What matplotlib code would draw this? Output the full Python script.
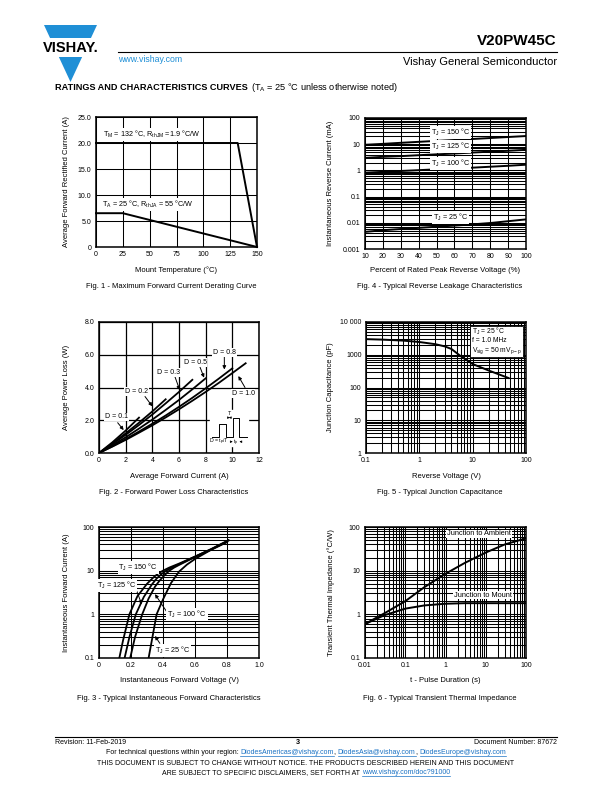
import numpy as np
import matplotlib
matplotlib.use('Agg')
import matplotlib.pyplot as plt
from matplotlib.patches import Polygon
from matplotlib.ticker import NullFormatter, LogLocator

plt.rcParams['font.family'] = ['Liberation Sans', 'DejaVu Sans']
plt.rcParams['mathtext.fontset'] = 'custom'
plt.rcParams['mathtext.rm'] = 'Liberation Sans'
plt.rcParams['mathtext.it'] = 'Liberation Sans:italic'
plt.rcParams['mathtext.bf'] = 'Liberation Sans:bold'

# ---------------- data ----------------
# Fig 1 - derating
f1_tm_x = [0, 132, 150]
f1_tm_y = [20.0, 20.0, 0.0]
f1_ta_x = [0, 25, 150]
f1_ta_y = [6.5, 6.5, 0.0]

# Fig 2 - power loss
f2_curves = {
    'D = 0.1': ([0, 1, 2, 3], [0, 0.65, 1.37, 2.16]),
    'D = 0.2': ([0, 1, 2, 3, 4, 5], [0, 0.58, 1.20, 1.85, 2.54, 3.28]),
    'D = 0.3': ([0, 1, 2, 3, 4, 5, 6, 7], [0, 0.54, 1.11, 1.71, 2.35, 3.03, 3.73, 4.47]),
    'D = 0.5': ([0, 1, 2, 3, 4, 5, 6, 7, 8], [0, 0.47, 0.96, 1.49, 2.04, 2.63, 3.24, 3.89, 4.56]),
    'D = 0.8': ([0, 1, 2, 3, 4, 5, 6, 7, 8, 9, 10],
                [0, 0.41, 0.85, 1.31, 1.79, 2.29, 2.82, 3.37, 3.95, 4.55, 5.17]),
    'D = 1.0': ([0, 1, 2, 3, 4, 5, 6, 7, 8, 9, 10, 11],
                [0, 0.39, 0.80, 1.24, 1.69, 2.17, 2.67, 3.19, 3.73, 4.29, 4.88, 5.48]),
}
# label position, arrow tail, arrow head (data units)
f2_labels = {
    'D = 0.1': ((1.3, 2.2), (1.4, 1.85), (1.85, 1.4)),
    'D = 0.2': ((2.8, 3.74), (3.45, 3.45), (4.0, 2.85)),
    'D = 0.3': ((5.2, 4.93), (5.7, 4.65), (6.05, 3.85)),
    'D = 0.5': ((7.2, 5.54), (7.55, 5.3), (7.88, 4.6)),
    'D = 0.8': ((9.4, 6.15), (9.4, 5.9), (9.4, 5.1)),
    'D = 1.0': ((10.8, 3.65), (10.95, 4.0), (10.45, 4.7)),
}
f2_wave_x = [8.45, 9.03, 9.03, 9.53, 9.53, 10.03, 10.03, 10.53, 10.53, 11.08]
f2_wave_y = [1.0, 1.0, 1.75, 1.75, 1.0, 1.0, 2.16, 2.16, 1.0, 1.0]

# Fig 3 - forward characteristics
f3_curves = {
    '150': ([0.127, 0.15, 0.19, 0.24, 0.30, 0.34, 0.37, 0.40, 0.44, 0.50, 0.60, 0.70, 0.81],
            [0.1, 0.25, 1.0, 2.6, 5.0, 7.0, 8.6, 10.0, 11.8, 14.5, 21, 31, 50]),
    '125': ([0.16, 0.19, 0.23, 0.28, 0.33, 0.36, 0.39, 0.42, 0.46, 0.50, 0.60, 0.70, 0.81],
            [0.1, 0.3, 1.0, 2.5, 4.8, 6.6, 8.3, 10.0, 12.0, 14.0, 21, 31, 49]),
    '100': ([0.195, 0.225, 0.27, 0.31, 0.35, 0.38, 0.41, 0.44, 0.47, 0.50, 0.60, 0.70, 0.80],
            [0.1, 0.3, 1.0, 2.3, 4.3, 6.0, 7.9, 10.0, 11.8, 13.5, 20.5, 30, 46]),
    '25': ([0.31, 0.33, 0.36, 0.40, 0.45, 0.50, 0.55, 0.60, 0.70, 0.80],
           [0.1, 0.25, 1.0, 2.2, 5.2, 9.5, 13.8, 18.5, 30, 45]),
}
f3_labels = {
    '150': ((0.245, 11.7), (0.33, 11.3), (0.38, 8.7)),
    '125': ((0.11, 4.5), (0.236, 3.4), (0.267, 1.7)),
    '100': ((0.55, 1.0), (0.423, 1.15), (0.35, 2.9)),
    '25': ((0.46, 0.147), (0.38, 0.217), (0.35, 0.32)),
}

# Fig 4 - reverse leakage
f4_x = [10, 20, 30, 40, 50, 60, 70, 80, 90, 100]
f4_curves = {
    '150': [9.5, 10.3, 11.3, 12.3, 13.4, 14.5, 15.8, 17.2, 18.8, 20.5],
    '125': [3.0, 3.3, 3.5, 3.8, 4.1, 4.4, 4.8, 5.2, 5.6, 6.1],
    '100': [0.82, 0.88, 0.95, 1.02, 1.10, 1.18, 1.27, 1.38, 1.50, 1.65],
    '25': [0.0045, 0.0052, 0.0058, 0.0064, 0.0071, 0.0078, 0.0087, 0.0098, 0.0115, 0.0135],
}
f4_label_y = {'150': 27.5, '125': 8.0, '100': 1.86, '25': 0.016}

# Fig 5 - junction capacitance
f5_v = [0.1, 0.2, 0.5, 1, 2, 3, 4, 6, 10, 20, 47]
f5_c = [3000, 2900, 2700, 2450, 2100, 1800, 1500, 900, 520, 330, 195]

# Fig 6 - transient thermal impedance
f6_ja_t = [0.01, 0.03, 0.1, 0.3, 1, 3, 10, 30, 100]
f6_ja_z = [0.6, 1.05, 2.0, 4.2, 8.5, 15, 26, 40, 55]
f6_jm_t = [0.01, 0.03, 0.1, 0.3, 1, 3, 10, 100]
f6_jm_z = [0.6, 0.95, 1.35, 1.6, 1.75, 1.8, 1.8, 1.8]

# ---------------- figure ----------------
W, H = 612, 792
fig = plt.figure(figsize=(W / 100, H / 100), dpi=100)
BLUE = '#1f8fd6'
LINK = '#1a72c4'


def px_axes(x0, y0, x1, y1):
    return fig.add_axes([x0 / W, 1 - y1 / H, (x1 - x0) / W, (y1 - y0) / H])


def ftext(x, y, s, **kw):
    return fig.text(x / W, 1 - y / H, s, **kw)


def style(ax, box, xlabel, ylabel, caption, ylab_x, xlab_y, cap_x, cap_y):
    for s in ax.spines.values():
        s.set_linewidth(1.1)
    ax.tick_params(which='both', length=0, labelsize=5, pad=3.2)
    ax.set_axisbelow(True)
    x0, y0, x1, y1 = box
    ftext(ylab_x, (y0 + y1) / 2, ylabel, rotation=90, ha='center', va='center', fontsize=5.5)
    ftext((x0 + x1) / 2, xlab_y, xlabel, ha='center', va='center', fontsize=5.5)
    ftext(cap_x, cap_y, caption, ha='center', va='center', fontsize=5.5)


def log_grid(ax, axis):
    a = ax.xaxis if axis == 'x' else ax.yaxis
    a.set_minor_locator(LogLocator(base=10, subs=np.arange(2, 10)))
    a.set_minor_formatter(NullFormatter())
    ax.grid(True, which='both', axis=axis, color='black', lw=0.75)


wbox = dict(facecolor='white', edgecolor='none', pad=0.6)
arrow = dict(arrowstyle='-|>', color='black', lw=0.7, mutation_scale=5, shrinkA=0, shrinkB=0)
LBL = 5.2

# Fig 1
b1 = (96, 117, 257, 247)
ax1 = px_axes(*b1)
ax1.set_xlim(0, 150)
ax1.set_ylim(0, 25)
ax1.set_xticks([0, 25, 50, 75, 100, 125, 150])
ax1.set_yticks([0, 5, 10, 15, 20, 25])
ax1.set_yticklabels(['0', '5.0', '10.0', '15.0', '20.0', '25.0'])
ax1.grid(True, color='black', lw=0.75)
ax1.plot(f1_tm_x, f1_tm_y, color='black', lw=1.4, clip_on=False)
ax1.plot(f1_ta_x, f1_ta_y, color='black', lw=1.4, clip_on=False)
ax1.text(6.5, 21.7, r'T$_\mathregular{M}$ = 132 °C, R$_\mathregular{thJM}$ =1.9 °C/W', fontsize=LBL,
         va='center', bbox=wbox)
ax1.text(6.0, 8.2, r'T$_\mathregular{A}$ = 25 °C, R$_\mathregular{thJA}$ = 55 °C/W', fontsize=LBL,
         va='center', bbox=wbox)
style(ax1, b1, 'Mount Temperature (°C)', 'Average Forward Rectified Current (A)',
      'Fig. 1 - Maximum Forward Current Derating Curve', 67, 270.5, 171, 287)

# Fig 4
b4 = (365, 118, 526, 249)
ax4 = px_axes(*b4)
ax4.set_xlim(10, 100)
ax4.set_yscale('log')
ax4.set_ylim(0.001, 100)
ax4.set_xticks(f4_x)
ax4.set_yticks([0.001, 0.01, 0.1, 1, 10, 100])
ax4.set_yticklabels(['0.001', '0.01', '0.1', '1', '10', '100'])
log_grid(ax4, 'y')
ax4.grid(True, which='major', axis='x', color='black', lw=0.75)
for k, ys in f4_curves.items():
    ax4.plot(f4_x, ys, color='black', lw=1.4)
    ax4.text(57.9, f4_label_y[k], r'T$_\mathregular{J}$ = ' + k + ' °C', fontsize=LBL,
             ha='center', va='center', bbox=wbox)
style(ax4, b4, 'Percent of Rated Peak Reverse Voltage (%)', 'Instantaneous Reverse Current (mA)',
      'Fig. 4 - Typical Reverse Leakage Characteristics', 331, 271, 440, 287)

# Fig 2
b2 = (99, 322, 259, 453)
ax2 = px_axes(*b2)
ax2.set_xlim(0, 12)
ax2.set_ylim(0, 8)
ax2.set_xticks([0, 2, 4, 6, 8, 10, 12])
ax2.set_yticks([0, 2, 4, 6, 8])
ax2.set_yticklabels(['0.0', '2.0', '4.0', '6.0', '8.0'])
ax2.grid(True, color='black', lw=0.9)
for k, (xs, ys) in f2_curves.items():
    ax2.plot(xs, ys, color='black', lw=1.3)
for k, (tpos, tail, head) in f2_labels.items():
    ax2.annotate('', xy=head, xytext=tail, arrowprops=arrow)
    ax2.text(tpos[0], tpos[1], k, fontsize=5.0, ha='center', va='center', bbox=wbox)
# pulse inset
ax2.fill_between([8.3, 11.2], 0.45, 2.6, color='white', zorder=2)
ax2.plot(f2_wave_x, f2_wave_y, color='black', lw=0.7, zorder=3)
ax2.annotate('', xy=(10.03, 2.16), xytext=(9.53, 2.16),
             arrowprops=dict(arrowstyle='<|-|>', color='black', lw=0.5, mutation_scale=3), zorder=3)
ax2.text(9.78, 2.42, 'T', fontsize=3.8, ha='center', va='center', zorder=3)
ax2.annotate('', xy=(10.03, 0.69), xytext=(9.7, 0.69),
             arrowprops=dict(arrowstyle='-|>', color='black', lw=0.5, mutation_scale=3), zorder=3)
ax2.annotate('', xy=(10.53, 0.69), xytext=(10.86, 0.69),
             arrowprops=dict(arrowstyle='-|>', color='black', lw=0.5, mutation_scale=3), zorder=3)
ax2.text(10.28, 0.62, r't$_\mathregular{p}$', fontsize=3.8, ha='center', va='center', zorder=3)
ax2.text(9.0, 0.69, r'D = t$_\mathregular{p}$/T', fontsize=3.8, ha='center', va='center', zorder=3)
style(ax2, b2, 'Average Forward Current (A)', 'Average Power Loss (W)',
      'Fig. 2 - Forward Power Loss Characteristics', 67, 476, 174, 492)

# Fig 5
b5 = (366, 322, 526, 453)
ax5 = px_axes(*b5)
ax5.set_xscale('log')
ax5.set_yscale('log')
ax5.set_xlim(0.1, 100)
ax5.set_ylim(1, 10000)
ax5.set_xticks([0.1, 1, 10, 100])
ax5.set_xticklabels(['0.1', '1', '10', '100'])
ax5.set_yticks([1, 10, 100, 1000, 10000])
ax5.set_yticklabels(['1', '10', '100', '1000', '10 000'])
log_grid(ax5, 'x')
log_grid(ax5, 'y')
ax5.plot(f5_v, f5_c, color='black', lw=1.4)
ax5.text(0.66, 0.97, 'T$_\\mathregular{J}$ = 25 °C\nf = 1.0 MHz\nV$_\\mathregular{sig}$ = 50 mV$_\\mathregular{p-p}$',
         transform=ax5.transAxes, fontsize=4.9, ha='left', va='top', linespacing=1.05,
         bbox=dict(facecolor='white', edgecolor='black', lw=0.6, pad=1.0))
style(ax5, b5, 'Reverse Voltage (V)', 'Junction Capacitance (pF)',
      'Fig. 5 - Typical Junction Capacitance', 331, 476, 440, 492)

# Fig 3
b3 = (99, 527, 259, 658)
ax3 = px_axes(*b3)
ax3.set_xlim(0, 1.0)
ax3.set_yscale('log')
ax3.set_ylim(0.1, 100)
ax3.set_xticks([0, 0.2, 0.4, 0.6, 0.8, 1.0])
ax3.set_xticklabels(['0', '0.2', '0.4', '0.6', '0.8', '1.0'])
ax3.set_yticks([0.1, 1, 10, 100])
ax3.set_yticklabels(['0.1', '1', '10', '100'])
log_grid(ax3, 'y')
ax3.grid(True, which='major', axis='x', color='black', lw=0.75)
for k, (xs, ys) in f3_curves.items():
    ax3.plot(xs, ys, color='black', lw=1.3)
for k, (tpos, tail, head) in f3_labels.items():
    ax3.annotate('', xy=head, xytext=tail, arrowprops=arrow)
    ax3.text(tpos[0], tpos[1], r'T$_\mathregular{J}$ = ' + k + ' °C', fontsize=LBL,
             ha='center', va='center', bbox=wbox)
style(ax3, b3, 'Instantaneous Forward Voltage (V)', 'Instantaneous Forward Current (A)',
      'Fig. 3 - Typical Instantaneous Forward Characteristics', 67, 681, 169, 698)

# Fig 6
b6 = (365, 527, 526, 658)
ax6 = px_axes(*b6)
ax6.set_xscale('log')
ax6.set_yscale('log')
ax6.set_xlim(0.01, 100)
ax6.set_ylim(0.1, 100)
ax6.set_xticks([0.01, 0.1, 1, 10, 100])
ax6.set_xticklabels(['0.01', '0.1', '1', '10', '100'])
ax6.set_yticks([0.1, 1, 10, 100])
ax6.set_yticklabels(['0.1', '1', '10', '100'])
log_grid(ax6, 'x')
log_grid(ax6, 'y')
ax6.plot(f6_ja_t, f6_ja_z, color='black', lw=1.4)
ax6.plot(f6_jm_t, f6_jm_z, color='black', lw=1.4)
ax6.text(0.708, 0.947, 'Junction to Ambient', transform=ax6.transAxes, fontsize=5.3,
         ha='center', va='center', bbox=wbox)
ax6.text(0.733, 0.48, 'Junction to Mount', transform=ax6.transAxes, fontsize=5.3,
         ha='center', va='center', bbox=wbox)
style(ax6, b6, 't - Pulse Duration (s)', 'Transient Thermal Impedance (°C/W)',
      'Fig. 6 - Typical Transient Thermal Impedance', 331, 680, 440, 698)

# ---------------- header ----------------
logo = fig.add_axes([0, 0, 1, 1], zorder=-1)
logo.set_xlim(0, W)
logo.set_ylim(H, 0)
logo.axis('off')
tip = (70.5, 82)
top_l, top_r, top_y = 44, 97, 25


def tri_x(y):
    half = (top_r - top_l) / 2 * (tip[1] - y) / (tip[1] - top_y)
    return tip[0] - half, tip[0] + half


a, b = tri_x(38)
logo.add_patch(Polygon([(top_l, top_y), (top_r, top_y), (b, 38), (a, 38)], color=BLUE, lw=0))
a, b = tri_x(57)
logo.add_patch(Polygon([(a, 57), (b, 57), tip], color=BLUE, lw=0))
logo.text(70.5, 47.5, 'VISHAY.', fontsize=10.5, fontweight='bold', ha='center', va='center')
logo.plot([118, 557], [52, 52], color='black', lw=0.8)
logo.plot([55, 557], [737, 737], color='black', lw=0.8)

ftext(557, 41, 'V20PW45C', fontsize=11, fontweight='bold', ha='right', va='center')
ftext(118, 60, 'www.vishay.com', fontsize=6.3, color=BLUE, ha='left', va='center')
ftext(557, 62, 'Vishay General Semiconductor', fontsize=8, ha='right', va='center')

r = fig.canvas.get_renderer()
t = ftext(55, 88, 'RATINGS AND CHARACTERISTICS CURVES', fontsize=6.6, fontweight='bold',
          ha='left', va='center')
w = t.get_window_extent(renderer=r).width
ftext(55 + w + 3, 88, r'(T$_\mathregular{A}$ = 25 °C unless otherwise noted)', fontsize=6.6,
      ha='left', va='center')

# ---------------- footer ----------------
ftext(55, 742, 'Revision: 11-Feb-2019', fontsize=5, ha='left', va='center')
ftext(298, 742.5, '3', fontsize=5.2, fontweight='bold', ha='center', va='center')
ftext(557, 742, 'Document Number: 87672', fontsize=5, ha='right', va='center')


def run_text(xc, y, parts, size):
    items = []
    total = 0
    for s, c in parts:
        tt = ftext(0, y, s, fontsize=size, color=c, ha='left', va='center')
        ww = tt.get_window_extent(renderer=r).width
        items.append((tt, ww, c))
        total += ww
    x = xc - total / 2
    for tt, ww, c in items:
        tt.set_x(x / W)
        if c != 'black':
            logo.plot([x, x + ww], [y + 3.3, y + 3.3], color=c, lw=0.5)
        x += ww


run_text(306, 752.5, [('For technical questions within your region: ', 'black'),
                      ('DiodesAmericas@vishay.com', LINK), (', ', 'black'),
                      ('DiodesAsia@vishay.com', LINK), (', ', 'black'),
                      ('DiodesEurope@vishay.com', LINK)], 5)
ftext(306, 763.5, 'THIS DOCUMENT IS SUBJECT TO CHANGE WITHOUT NOTICE. THE PRODUCTS DESCRIBED HEREIN AND THIS DOCUMENT',
      fontsize=5, ha='center', va='center')
run_text(306, 772.5, [('ARE SUBJECT TO SPECIFIC DISCLAIMERS, SET FORTH AT ', 'black'),
                      ('www.vishay.com/doc?91000', LINK)], 5)

fig.savefig('out.png', dpi=100)
